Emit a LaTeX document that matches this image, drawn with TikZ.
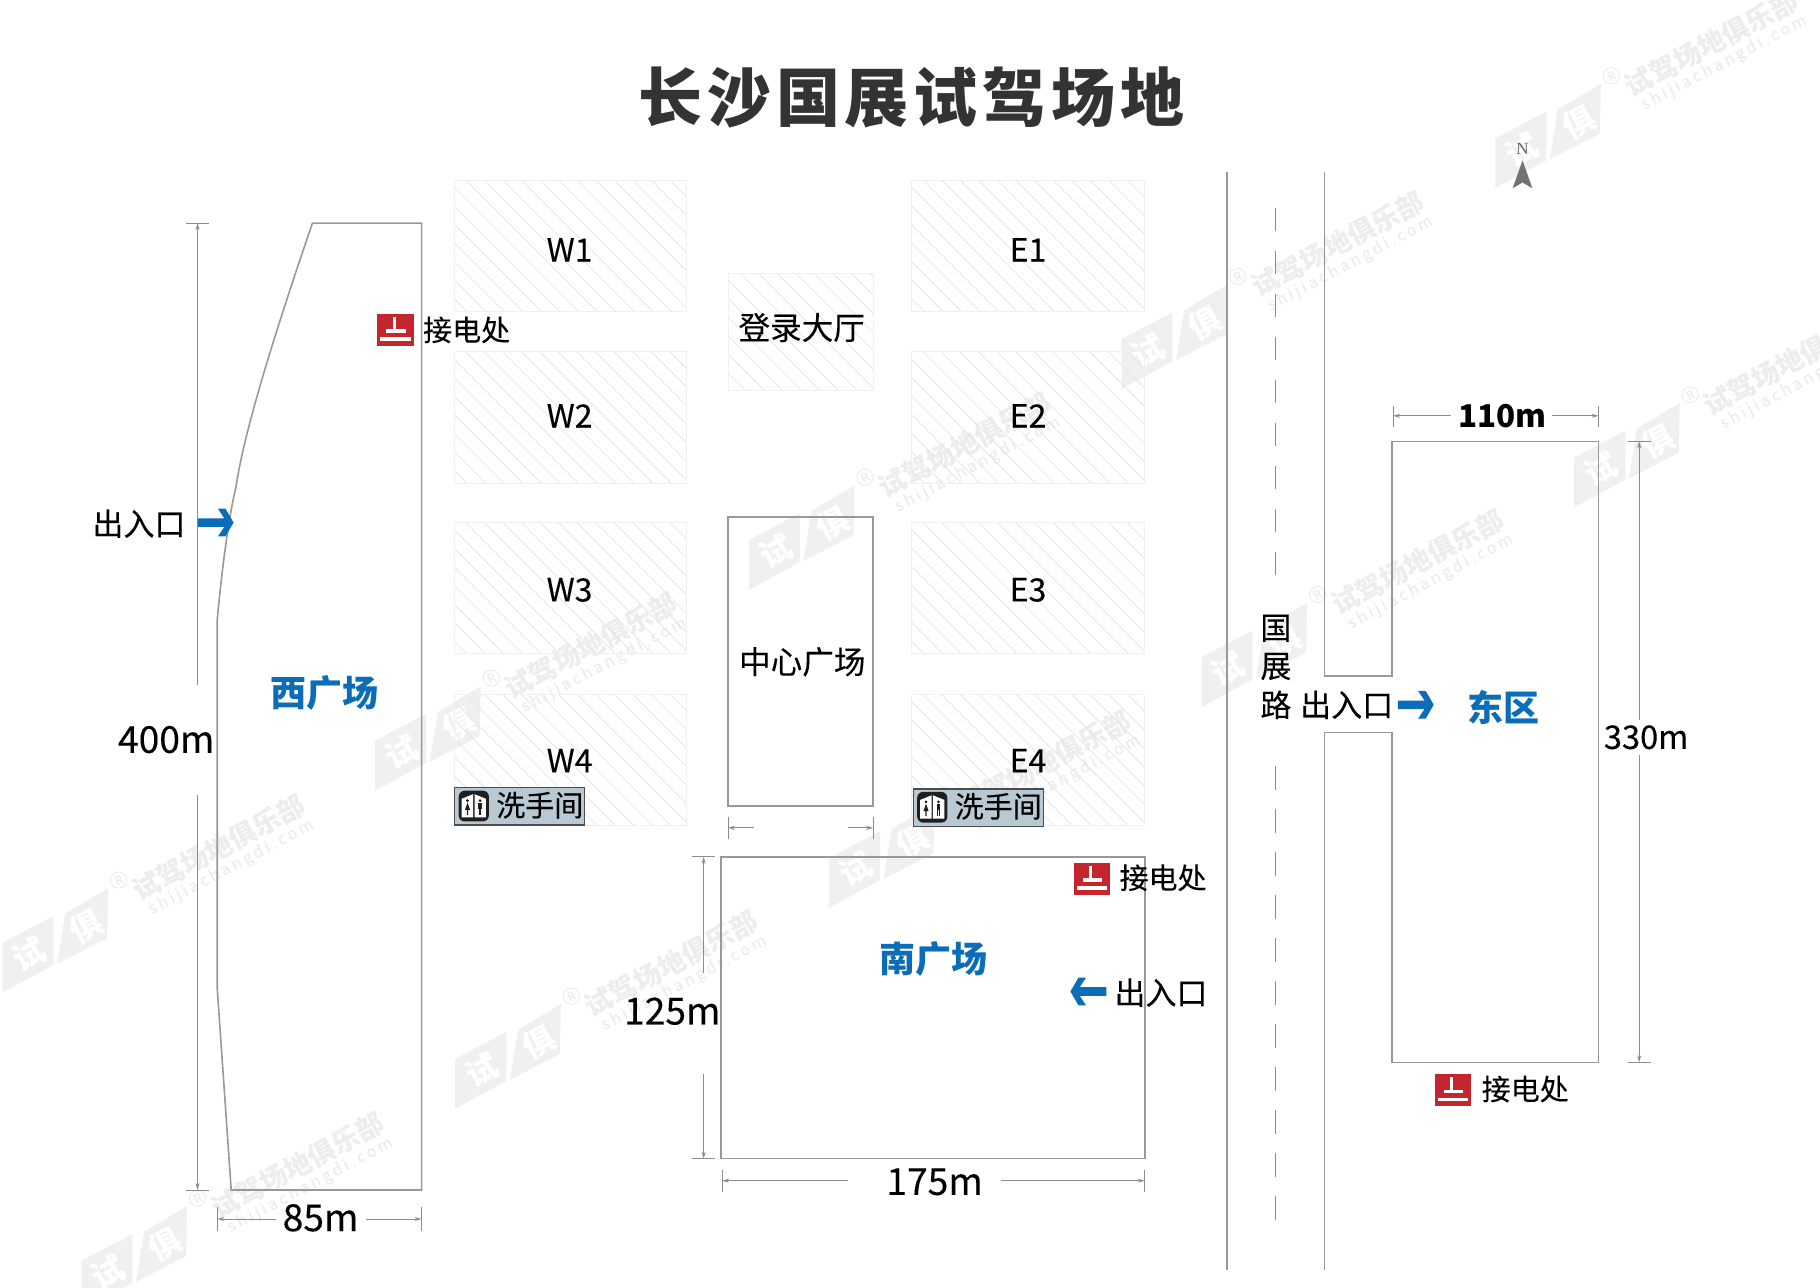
\documentclass[tikz,border=0pt]{standalone}
\usepackage{fontspec}
\setmainfont[FakeBold=0.18,BoldFeatures={FakeBold=0}]{Noto Sans CJK SC}
\newfontfamily\northfont{Liberation Serif}
\usetikzlibrary{arrows.meta}
\definecolor{edgegray}{HTML}{999999}
\definecolor{dimgray}{HTML}{8C8C8C}
\definecolor{hatchgray}{HTML}{E6E6E6}
\definecolor{hatchedge}{HTML}{F0F0F0}
\definecolor{planblue}{HTML}{0B6DB7}
\definecolor{plugred}{HTML}{C4262E}
\definecolor{wcfill}{HTML}{B9C9D4}
\definecolor{titlegray}{HTML}{333333}
\definecolor{markgray}{HTML}{F0F0F0}
\definecolor{marktext}{HTML}{EDEDED}
\tikzset{
  x=0.58036pt,y=-0.58036pt,
  plan/.style={draw=edgegray,line width=0.8pt,line join=miter},
  dimline/.style={draw=dimgray,line width=0.4pt},
  dimend/.style={draw=dimgray,line width=0.4pt,-{Stealth[length=3.5pt,width=2pt]}},
  label/.style={text=black,inner sep=0pt,font=\fontsize{14.5pt}{16pt}\selectfont},
  hall/.style={text=black,inner sep=0pt,font=\fontsize{15.8pt}{18pt}\selectfont},
  bay/.style={text=black,inner sep=0pt,font=\fontsize{16pt}{18pt}\selectfont},
  measure/.style={text=black,inner sep=0pt,font=\fontsize{18.6pt}{22pt}\selectfont},
  place/.style={text=planblue,inner sep=0pt,font=\fontsize{18pt}{20pt}\selectfont\bfseries},
  gate/.style={text=black,inner sep=0pt,font=\fontsize{15.5pt}{18pt}\selectfont},
  pics/bluearrow/.style={code={
    \fill[planblue] (0,-3.7)--(23,-3.7)--(17.5,-12)--(24,-12)--(31,0)--(24,12)--(17.5,12)--(23,3.7)--(0,3.7)--cycle;}},
  pics/plug/.style={code={
    \fill[plugred] (0,0) rectangle (31.5,27.5);
    \fill[white] (13.2,2.5) rectangle (15.6,13.5);
    \fill[white] (7.5,13.5) rectangle (24.5,16.3);
    \fill[white] (2.5,20.5) rectangle (28.5,23.4);
    }},
  pics/wcicon/.style={code={
    \fill[black!88,rounded corners=3] (0,0) rectangle (26,26.5);
    \fill[white] (2.5,7) -- (2.5,23) -- (12.4,23) -- (12.4,3) -- cycle;
    \fill[white] (13.6,3) -- (13.6,23) -- (23.5,23) -- (23.5,7) -- cycle;
    \fill[black!88] (7.6,8.6) circle (1.3);
    \fill[black!88] (7.6,10.2) -- (9.8,16.5) -- (8.2,16.5) -- (8.2,21) -- (7,21) -- (7,16.5) -- (5.4,16.5) -- cycle;
    \fill[black!88] (18.4,8.6) circle (1.3);
    \fill[black!88] (16.8,10.4) rectangle (20,15.8);
    \fill[black!88] (17.4,15.5) rectangle (18.2,21);
    \fill[black!88] (18.6,15.5) rectangle (19.4,21);
    }},
  pics/mark/.style={code={
    \fill[markgray] (0,0)--(0,-43)--(44,-66)--(44,-24)--cycle;
    \fill[markgray] (47,-25)--(54,-68)--(91,-90)--(90,-47)--cycle;
    \node[rotate=28,text=white,inner sep=0pt,font=\fontsize{16pt}{18pt}\selectfont\bfseries] at (23,-33) {试};
    \node[rotate=28,text=white,inner sep=0pt,font=\fontsize{16pt}{18pt}\selectfont\bfseries] at (72,-57) {俱};
    \draw[marktext,line width=0.5pt] (100,-97) circle (7);
    \node[rotate=28,text=marktext,inner sep=0pt,font=\fontsize{6pt}{7pt}\selectfont] at (100,-97) {R};
    \node[rotate=28,text=marktext,inner sep=0pt,font=\fontsize{13.6pt}{15pt}\selectfont\bfseries] at (186,-125) {试驾场地俱乐部};
    \node[rotate=28,text=marktext,inner sep=0pt,font=\fontsize{8pt}{10pt}\selectfont\addfontfeature{LetterSpace=19}] at (197,-108) {shijiachangdi.com};
    }},
}
\newcommand{\hatchbox}[4]{%
  \begin{scope}
    \clip (#1,#2) rectangle (#3,#4);
    \foreach \off in {-150,-134,...,240}
      \draw[hatchgray,line width=0.4pt] ({#1+\off},#2) -- ({#1+\off+130},{#2+130});
  \end{scope}
  \draw[hatchedge,line width=0.5pt] (#1,#2) rectangle (#3,#4);
}
\newcommand{\wcsign}[3]{%
  \node[draw=black!70,fill=wcfill,line width=0.6pt,minimum width=65pt,minimum height=18.6pt,inner sep=0pt,anchor=north west] (#3) at (#1,#2) {};
  \pic at ({#1+4},{#2+3}) {wcicon};
  \node[label,anchor=west] (#3t) at ({#1+36},{#2+15.5}) {洗手间};
}
\begin{document}
\begin{tikzpicture}
\useasboundingbox (0,0) rectangle (1568,1108.9);
\clip (0,0) rectangle (1568,1108.9);
\fill[white] (0,0) rectangle (1568,1108.9);
\begin{scope}[shift={(0.2,0.2)}]

% watermarks
\pic at (1288,162) {mark};
\pic at (966,335) {mark};
\pic at (645,508) {mark};
\pic at (1035,609) {mark};
\pic at (1356,437) {mark};
\pic at (323,681) {mark};
\pic at (714,782) {mark};
\pic at (2,855) {mark};
\pic at (392,955) {mark};
\pic at (70,1129) {mark};

% title
\node[inner sep=0pt,text=titlegray,font=\fontsize{32pt}{36pt}\selectfont\bfseries\addfontfeature{LetterSpace=7.5}] (title) at (785,84) {长沙国展试驾场地};

% hatched halls
\hatchbox{391}{155}{591}{268}
\hatchbox{391}{303}{591}{416}
\hatchbox{391}{450}{591}{563}
\hatchbox{391}{598}{591}{711}
\hatchbox{785}{155}{986}{268}
\hatchbox{785}{303}{986}{416}
\hatchbox{785}{450}{986}{563}
\hatchbox{785}{598}{986}{711}
\hatchbox{627}{235}{752}{336}

\node[bay] (w1) at (490.5,215) {W1};
\node[bay] (w2) at (490.5,358) {W2};
\node[bay] (w3) at (490.5,508) {W3};
\node[bay] (w4) at (490.5,655) {W4};
\node[bay] (e1) at (885.5,215) {E1};
\node[bay] (e2) at (885.5,358) {E2};
\node[bay] (e3) at (885.5,508) {E3};
\node[bay] (e4) at (885.5,655) {E4};
\node[hall] (lobby) at (690.5,282) {登录大厅};

% west square
\draw[plan] (269,192) -- (363,192) -- (363,1025) -- (199,1025) -- (187,852) -- (187,533)
  .. controls (192,480) and (198,440) .. (203,420)
  .. controls (208,385) and (225,320) .. (269,192);
\node[place] (west) at (279,597) {西广场};
\node[gate] (wgate) at (119.5,451) {出入口};
\pic at (170,450) {bluearrow};
\pic at (325,270) {plug};
\node[label,anchor=west] (wplug) at (364,284) {接电处};

\draw[dimline] (160,192) -- (180,192);
\draw[dimline] (160,1025) -- (180,1025);
\draw[dimend] (170,590) -- (170,192);
\draw[dimend] (170,685) -- (170,1025);
\node[measure] (h400) at (143,637) {400m};

\draw[dimline] (187,1040) -- (187,1060);
\draw[dimline] (363,1040) -- (363,1060);
\draw[dimend] (238,1050) -- (187,1050);
\draw[dimend] (315,1050) -- (363,1050);
\node[measure] (w85) at (276,1049) {85m};

% centre square
\draw[plan] (627,445) rectangle (752,694);
\node[hall] (centre) at (691,570) {中心广场};
\draw[dimline] (627,704) -- (627,723);
\draw[dimline] (752,704) -- (752,723);
\draw[dimend] (649,713) -- (627,713);
\draw[dimend] (730,713) -- (752,713);

% toilets
\wcsign{391}{678}{wcw}
\wcsign{786}{679}{wce}

% south square
\draw[plan] (621,738) rectangle (986,998);
\node[place] (south) at (804,826) {南广场};
\pic at (925,743) {plug};
\node[label,anchor=west] (splug) at (964,756) {接电处};
\pic[xscale=-1] at (953,854) {bluearrow};
\node[gate] (sgate) at (1000,855) {出入口};
\draw[dimline] (596,738) -- (616,738);
\draw[dimline] (596,998) -- (616,998);
\draw[dimend] (606,838) -- (606,738);
\draw[dimend] (606,925) -- (606,998);
\node[measure] (h125) at (579,871) {125m};
\draw[dimline] (622,1008) -- (622,1027);
\draw[dimline] (986,1008) -- (986,1027);
\draw[dimend] (730,1017) -- (622,1017);
\draw[dimend] (862,1017) -- (986,1017);
\node[measure] (w175) at (805,1018) {175m};

% road
\draw[plan] (1057,148) -- (1057,1094);
\draw[plan] (1141,148) -- (1141,582) -- (1199,582) -- (1199,380) -- (1377,380) -- (1377,915) -- (1199,915) -- (1199,631) -- (1141,631) -- (1141,1094);
\draw[dimgray,line width=0.6pt,dash pattern=on 11.6pt off 9.9pt] (1099,179) -- (1099,496);
\draw[dimgray,line width=0.6pt,dash pattern=on 11.6pt off 9.9pt] (1099,660) -- (1099,1052);
\node[gate] (r1) at (1099,541) {国};
\node[gate] (r2) at (1099,574) {展};
\node[gate] (r3) at (1099,607) {路};
\node[gate] (egate) at (1160,607) {出入口};
\pic at (1204,607) {bluearrow};
\node[place] (east) at (1295,609) {东区};
\pic at (1236,925) {plug};
\node[label,anchor=west] (eplug) at (1276,938) {接电处};

\draw[dimline] (1200,350) -- (1200,368);
\draw[dimline] (1377,350) -- (1377,368);
\draw[dimend] (1250,358) -- (1200,358);
\draw[dimend] (1337,358) -- (1377,358);
\node[inner sep=0pt,text=black,font=\fontsize{15.7pt}{18pt}\selectfont\bfseries] (w110) at (1294,358) {110m};

\draw[dimline] (1402,380) -- (1422,380);
\draw[dimline] (1402,915) -- (1422,915);
\draw[dimend] (1412,620) -- (1412,380);
\draw[dimend] (1412,650) -- (1412,915);
\node[inner sep=0pt,text=black,font=\fontsize{16.3pt}{18pt}\selectfont] (h330) at (1418,635) {330m};

% north mark
\node[inner sep=0pt,text=black!60,font=\fontsize{8.5pt}{10pt}\selectfont\northfont] (north) at (1311.5,128) {N};
\fill[black!55] (1311.5,138) -- (1320,162) -- (1311.5,157) -- (1303,162) -- cycle;
\end{scope}
\end{tikzpicture}
\end{document}
